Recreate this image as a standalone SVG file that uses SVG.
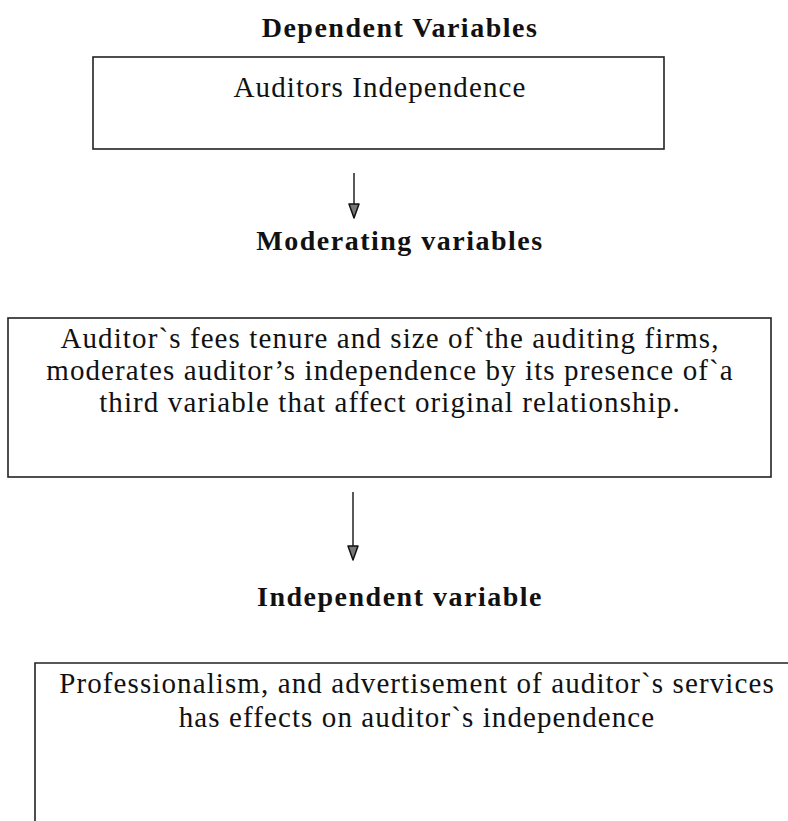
<svg xmlns="http://www.w3.org/2000/svg" width="788" height="821" viewBox="0 0 788 821">
<style>
.title{font-family:"Liberation Serif","Times New Roman",serif;font-weight:bold;font-size:28px;letter-spacing:1.5px;fill:#111;text-anchor:middle}
.body{font-family:"Liberation Serif","Times New Roman",serif;font-size:29px;letter-spacing:1.1px;fill:#111;text-anchor:middle}
.box{fill:none;stroke:#222;stroke-width:1.6}
.conn{fill:none;stroke:#222;stroke-width:1.5}
</style>
<defs>
<marker id="arrow" markerWidth="16" markerHeight="12" refX="15" refY="6" orient="auto" markerUnits="userSpaceOnUse" viewBox="0 0 16 12">
<path d="M1,1 L15,6 L1,11 Z" fill="#777" stroke="#111" stroke-width="1.5" stroke-linejoin="round"/>
</marker>
</defs>
<rect width="788" height="821" fill="#fff"/>
<g id="title-dependent"><text class="title" x="400" y="37">Dependent Variables</text></g>
<g id="node-dependent">
<rect class="box" x="93" y="57" width="571" height="92"/>
<text class="body" x="380" y="97">Auditors Independence</text>
</g>
<g id="title-moderating"><text class="title" x="400" y="250">Moderating variables</text></g>
<g id="node-moderating">
<rect class="box" x="8" y="318" width="763" height="159"/>
<text class="body" x="390" y="348">Auditor`s fees tenure and size of`the auditing firms,</text>
<text class="body" x="390" y="380">moderates auditor’s independence by its presence of`a</text>
<text class="body" x="390" y="412">third variable that affect original relationship.</text>
</g>
<g id="title-independent"><text class="title" x="400" y="606">Independent variable</text></g>
<g id="node-independent">
<path class="box" d="M35,830 L35,663 L800,663"/>
<text class="body" x="417" y="693">Professionalism, and advertisement of auditor`s services</text>
<text class="body" x="417" y="727">has effects on auditor`s independence</text>
</g>
<g id="connectors">
<line class="conn" x1="354" y1="173" x2="354" y2="218" marker-end="url(#arrow)"/>
<line class="conn" x1="353" y1="492" x2="353" y2="560" marker-end="url(#arrow)"/>
</g>
</svg>
